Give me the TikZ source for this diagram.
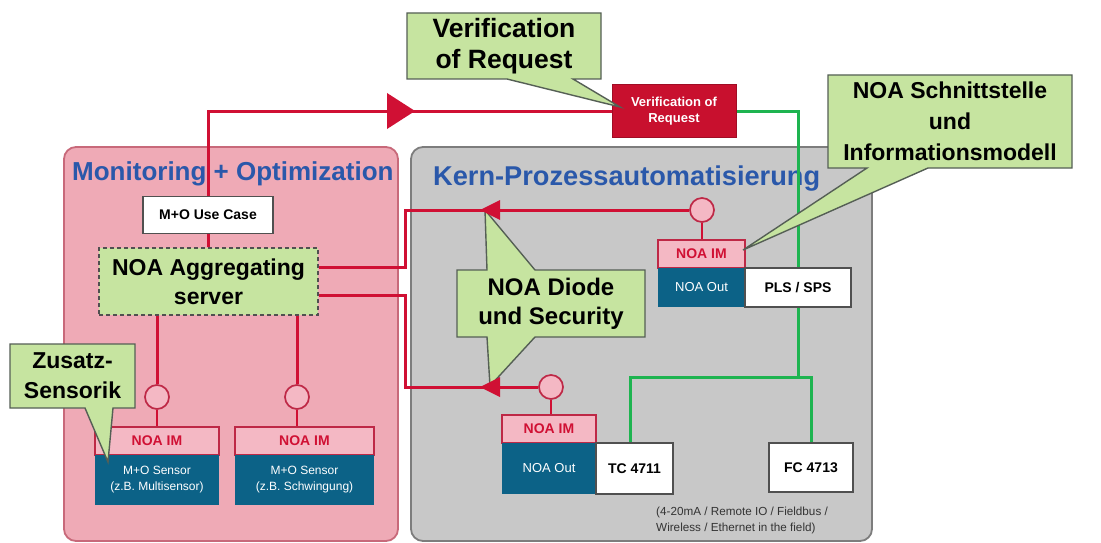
\documentclass[tikz,border=0pt]{standalone}
\usepackage{fontspec}
\setmainfont{Liberation Sans}
\newcommand\fsz[2]{\fontsize{#1}{#2}\selectfont}
\definecolor{pinkpanel}{RGB}{239,170,182}
\definecolor{pinkborder}{RGB}{200,105,122}
\definecolor{graypanel}{RGB}{200,200,200}
\definecolor{grayborder}{RGB}{125,125,125}
\definecolor{noared}{RGB}{208,16,52}
\definecolor{imfill}{RGB}{244,184,196}
\definecolor{imborder}{RGB}{190,40,70}
\definecolor{tealc}{RGB}{12,98,135}
\definecolor{callfill}{RGB}{198,228,160}
\definecolor{callborder}{RGB}{85,95,85}
\definecolor{titleblue}{RGB}{42,88,170}
\definecolor{netgreen}{RGB}{30,180,80}
\definecolor{boxborder}{RGB}{80,80,80}
\definecolor{verifred}{RGB}{200,16,46}
\pgfdeclarelayer{back}
\pgfdeclarelayer{lines}
\pgfdeclarelayer{front}
\pgfdeclarelayer{topmost}
\pgfsetlayers{back,lines,main,front,topmost}
\tikzset{
  panel/.style={rounded corners=12pt, line width=1.8pt},
  titletext/.style={text=titleblue, font=\bfseries\fsz{26}{30}, inner sep=0, anchor=base west},
  whitebox/.style={draw=boxborder, fill=white, line width=1.3pt, inner sep=0, font=\bfseries\fsz{14}{16}},
  imbox/.style={draw=imborder, fill=imfill, text=noared, line width=1.3pt, inner sep=0, font=\bfseries\fsz{14}{16}},
  tealbox/.style={fill=tealc, text=white, inner sep=0, align=center},
  verifbox/.style={draw=verifred!80!black, fill=verifred, text=white, line width=1pt, inner sep=0, align=center, font=\bfseries\fsz{13}{16.5}},
  callout/.style={fill=callfill, draw=callborder, line width=1.4pt, line join=miter},
  calltext/.style={inner sep=0, align=center, font=\bfseries\fsz{23}{29.5}},
  redline/.style={draw=noared, line width=3pt},
  stemline/.style={draw=noared, line width=2pt},
  greenline/.style={draw=netgreen, line width=3pt},
  port/.style={circle, draw=imborder, fill=imfill, line width=1.7pt, minimum size=24pt, inner sep=0},
  tipmark/.style={fill=noared},
}
\begin{document}
\begin{tikzpicture}[x=1pt,y=-1pt]
\useasboundingbox (0,0) rectangle (1101,543);

% panels and titles
\begin{pgfonlayer}{back}
\fill[white] (0,0) rectangle (1101,543);
\filldraw[panel, fill=pinkpanel, draw=pinkborder] (64,147) rectangle (398,541);
\filldraw[panel, fill=graypanel, draw=grayborder] (411,147) rectangle (872,541);
\node[titletext] (t1) at (72,180) {Monitoring + Optimization};
\node[titletext, font=\bfseries\fsz{27.2}{30}] (t2) at (433,185) {Kern-Prozessautomatisierung};
\end{pgfonlayer}

% boxes
\node[whitebox, minimum width=130pt, minimum height=37pt] (usecase) at (208,215) {M+O Use Case};
\node[draw=boxborder, dashed, dash pattern=on 4pt off 3pt, fill=callfill, line width=1.3pt, inner sep=0,
      minimum width=219pt, minimum height=67pt, align=center, font=\bfseries\fsz{23}{29}] (agg) at (208.5,281.5) {NOA Aggregating\\server};
\node[verifbox, minimum width=124pt, minimum height=52pt] (verif) at (674,111) {Verification of\\Request};

\node[imbox, minimum width=87pt, minimum height=28pt] (im1) at (701.5,254) {NOA IM};
\node[tealbox, minimum width=87pt, minimum height=39pt, font=\fsz{13}{15}] (out1) at (701.5,287.5) {NOA Out};
\node[whitebox, minimum width=106pt, minimum height=39pt] (pls) at (798,287.5) {PLS / SPS};

\node[imbox, minimum width=94pt, minimum height=28pt] (im2) at (549,429) {NOA IM};
\node[tealbox, minimum width=94pt, minimum height=51pt, font=\fsz{13}{15}] (out2) at (549,468.5) {NOA Out};
\node[whitebox, minimum width=77pt, minimum height=51pt] (tc) at (634.5,468.5) {TC 4711};
\node[whitebox, minimum width=84pt, minimum height=49pt] (fc) at (811,467.5) {FC 4713};

\node[imbox, minimum width=124pt, minimum height=28pt] (ims1) at (157,441) {NOA IM};
\node[tealbox, minimum width=124pt, minimum height=50pt, font=\fsz{12}{16}] (sens1) at (157,480) {M+O Sensor\\(z.B. Multisensor)};
\node[imbox, minimum width=139pt, minimum height=28pt] (ims2) at (304.5,441) {NOA IM};
\node[tealbox, minimum width=139pt, minimum height=50pt, font=\fsz{12}{16}] (sens2) at (304.5,480) {M+O Sensor\\(z.B. Schwingung)};

\node[port] (p1) at (702,210) {};
\node[port] (p2) at (551,387) {};
\node[port] (p3) at (157,397) {};
\node[port] (p4) at (297,397) {};

\node[inner sep=0, anchor=north west, align=left, text=black!80, font=\fsz{11.7}{15.5}] (note) at (656,507)
  {(4-20mA / Remote IO / Fieldbus /\\Wireless / Ethernet in the field)};

% connectors
\begin{pgfonlayer}{lines}
\draw[redline] (agg.north -| usecase) -- (usecase.south);
\draw[redline] (usecase.north) |- (verif.west);
\draw[redline] ([yshift=14.5pt]agg.east) -- ++(87,0) |- (p1.west);
\draw[redline] ([yshift=-13.5pt]agg.east) -- ++(87,0) |- (p2.west);
\draw[redline] (agg.south -| p3) -- (p3.north);
\draw[redline] (agg.south -| p4) -- (p4.north);
\draw[stemline] (p1.south) -- (p1.south |- im1.north);
\draw[stemline] (p2.south) -- (p2.south |- im2.north);
\draw[stemline] (p3.south) -- (p3.south |- ims1.north);
\draw[stemline] (p4.south) -- (p4.south |- ims2.north);
\draw[greenline] (verif.east) -| (pls.north);
\coordinate (bus) at (798,377);
\draw[greenline] (pls.south) -- (bus);
\draw[greenline] ([xshift=-4.5pt]tc.north) |- (fc.north |- bus) -- (fc.north);
\end{pgfonlayer}

% callouts
\begin{pgfonlayer}{front}
\filldraw[callout] (407,13) -- (601,13) -- (601,79) -- (573,79) -- (620,107) -- (507,79) -- (407,79) -- cycle;
\node[calltext, font=\bfseries\fsz{26.5}{31}] (cverif) at (504,46) {Verification\\of Request};
\filldraw[callout] (828,75) -- (1072,75) -- (1072,168) -- (928,168) -- (743,250) -- (867,168) -- (828,168) -- cycle;
\node[calltext, font=\bfseries\fsz{23}{31}] (cschnitt) at (950,121.5) {NOA Schnittstelle\\und\\Informationsmodell};
\filldraw[callout] (10,344) -- (135,344) -- (135,408) -- (113,408) -- (108,462) -- (85,408) -- (10,408) -- cycle;
\node[calltext, font=\bfseries\fsz{23}{30}] (czusatz) at (72.5,376) {Zusatz-\\Sensorik};
\filldraw[callout] (457,270) -- (487,270) -- (485,210) -- (535,270) -- (645,270) -- (645,337) -- (535,337) -- (490,386) -- (487,337) -- (457,337) -- cycle;
\node[calltext, font=\bfseries\fsz{24}{29}] (cdiode) at (551,303.5) {NOA Diode\\und Security};
\end{pgfonlayer}

% arrowheads
\begin{pgfonlayer}{topmost}
\fill[tipmark] (387,93) -- (415,111) -- (387,129) -- cycle;
\fill[tipmark] (480,210) -- (500,200) -- (500,220) -- cycle;
\fill[tipmark] (480,387) -- (500,377) -- (500,397) -- cycle;
\end{pgfonlayer}
\end{tikzpicture}
\end{document}
